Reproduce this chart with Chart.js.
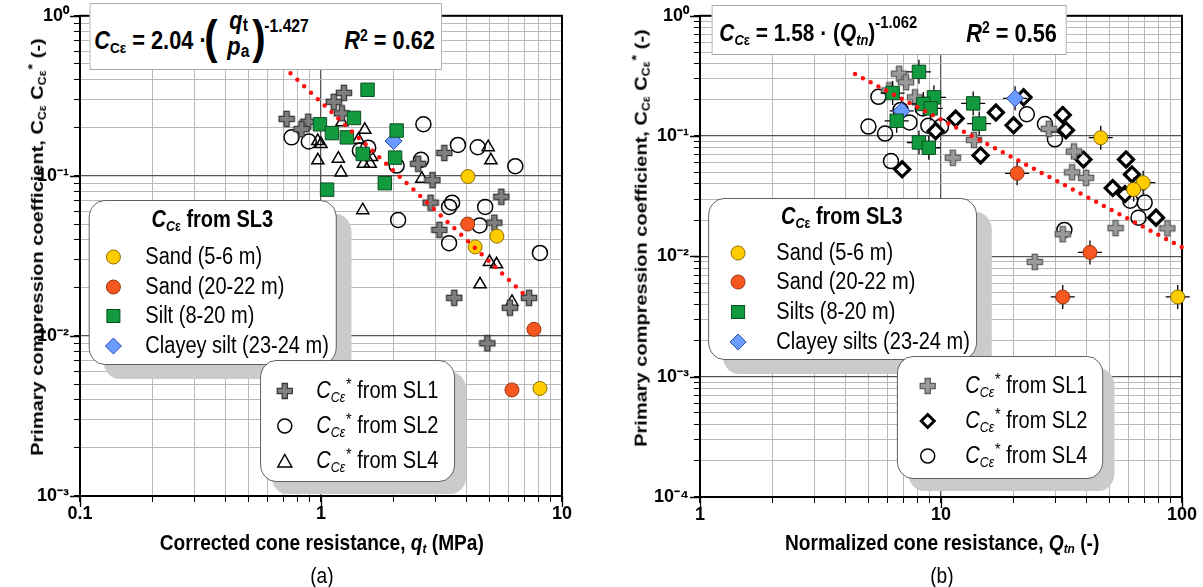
<!DOCTYPE html>
<html>
<head>
<meta charset="utf-8">
<title>Primary compression coefficient vs cone resistance</title>
<script src="https://cdn.jsdelivr.net/npm/chart.js@4.4.1/dist/chart.umd.min.js"></script>
<style>
  html, body { margin: 0; padding: 0; background: #fff; }
  #page { position: relative; width: 1203px; height: 587px; overflow: hidden; background: #fff; }
  #leftChart { position: absolute; left: 0; top: 0; }
  #rightChart { position: absolute; left: 600px; top: 0; }
  /* the whole source figure is squeezed horizontally, so the text layer is too */
  #ov { position: absolute; left: 0; top: 0; width: 1383px; height: 587px; transform: scaleX(0.87); transform-origin: 0 0;
        font-family: "Liberation Sans", Arial, sans-serif; color: #000; pointer-events: none; }
  #ov div, #ov svg { position: absolute; }
  .eq { box-sizing: border-box; background: #fff; border: 1.5px solid #a9a9a9; font-weight: bold; white-space: nowrap; line-height: 1; }
  .t25 { font-size: 25px; white-space: nowrap; line-height: 1; }
  .t24 { font-size: 24px; white-space: nowrap; line-height: 1; }
  .t18 { font-size: 18px; white-space: nowrap; line-height: 1; }
  .paren { font-size: 46px; line-height: 1; }
  .sb { font-size: 0.62em; position: relative; top: 0.25em; }
  .sbs { font-size: 0.72em; position: relative; top: 0.12em; }
  .sp2 { font-size: 0.64em; position: relative; top: -0.55em; }
  .sup { font-size: 17px; position: relative; top: -13px; }
  .ast { font-size: 0.72em; position: relative; top: -0.5em; margin-left: 1px; }
  .leg { box-sizing: border-box; background: #fff; border: 1.5px solid #555; border-radius: 18px; line-height: 1; white-space: nowrap; }
  .lt { font-size: 23px; line-height: 1; white-space: nowrap; }
  .ltitle { font-size: 23px; font-weight: bold; text-align: center; line-height: 1; white-space: nowrap; }
  .axt { font-size: 22px; font-weight: bold; line-height: 1; white-space: nowrap; }
  .ytitle { font-size: 20px; font-weight: bold; line-height: 1; white-space: nowrap; transform: rotate(-90deg); }
  .pl { font-size: 22px; line-height: 1; white-space: nowrap; }
</style>
</head>
<body>
<div id="page">
  <canvas id="leftChart" width="600" height="587"></canvas>
  <canvas id="rightChart" width="603" height="587"></canvas>

  <div id="ov">
    <!-- left: fit equation -->
    <div class="eq" data-x="90" data-y="3" data-w="352" data-h="67">
      <div class="t25" data-x="3.5" data-y="24.3"><i>C</i><span class="sb">Cε</span> = 2.04 ·</div>
      <div class="paren" data-x="113.5" data-y="9.9">(</div>
      <div class="t25" data-x="138.5" data-y="4"><i>q</i><span class="sbs">t</span></div>
      <div class="t25" data-x="136.5" data-y="30"><i>p</i><span class="sbs">a</span></div>
      <div class="paren" data-x="161.5" data-y="9.9">)</div>
      <div class="t18" data-x="173.5" data-y="13.3">-1.427</div>
      <div class="t25" data-x="253.5" data-y="24.3"><i>R</i><span class="sp2">2</span> = 0.62</div>
    </div>

    <!-- right: fit equation -->
    <div class="eq" data-x="712" data-y="5" data-w="355" data-h="50">
      <div class="t24" data-x="6.5" data-y="15"><i>C</i><span class="sb"><i>C</i>ε</span> = 1.58 · (<i>Q</i><span class="sb"><i>tn</i></span>)<span class="sup">-1.062</span></div>
      <div class="t25" data-x="253.5" data-y="14.5"><i>R</i><span class="sp2">2</span> = 0.56</div>
    </div>

    <!-- left: SL3 legend -->
    <div class="leg" data-x="89" data-y="200" data-w="248" data-h="165" style="box-shadow: 17px 14px 0 #cbcbcb;">
      <div class="ltitle" data-x="0" data-y="7" data-w="245"><i>C</i><span class="sb"><i>C</i>ε</span> from SL3</div>
      <svg data-x="14.5" data-y="46.5" width="20.7" height="18" viewBox="0 0 18 18" preserveAspectRatio="none"><circle cx="9" cy="9" r="7" fill="#ffcc00" stroke="#8c6d00" stroke-width="1"/></svg>
      <svg data-x="14.5" data-y="76.5" width="20.7" height="18" viewBox="0 0 18 18" preserveAspectRatio="none"><circle cx="9" cy="9" r="7" fill="#f6561f" stroke="#9a3410" stroke-width="1"/></svg>
      <svg data-x="14.5" data-y="105.5" width="20.7" height="18" viewBox="0 0 18 18" preserveAspectRatio="none"><rect x="2.5" y="2.5" width="13" height="13" fill="#129a3e" stroke="#0b4f22" stroke-width="1"/></svg>
      <svg data-x="14.5" data-y="135.5" width="20.7" height="18" viewBox="0 0 18 18" preserveAspectRatio="none"><polygon points="9,1 17,9 9,17 1,9" fill="#6b9bff" stroke="#2a4bb0" stroke-width="1"/></svg>
      <div class="lt" data-x="55.5" data-y="44">Sand (5-6 m)</div>
      <div class="lt" data-x="55.5" data-y="74">Sand (20-22 m)</div>
      <div class="lt" data-x="55.5" data-y="103">Silt (8-20 m)</div>
      <div class="lt" data-x="55.5" data-y="133">Clayey silt (23-24 m)</div>
    </div>

    <!-- left: SL1/SL2/SL4 legend -->
    <div class="leg" data-x="260" data-y="360" data-w="195" data-h="122" style="box-shadow: 13px 12px 0 #cbcbcb;">
      <svg data-x="14.5" data-y="20.5" width="20.7" height="18" viewBox="0 0 18 18" preserveAspectRatio="none"><polygon points="6.4,1.5 11.6,1.5 11.6,6.4 16.5,6.4 16.5,11.6 11.6,11.6 11.6,16.5 6.4,16.5 6.4,11.6 1.5,11.6 1.5,6.4 6.4,6.4" fill="#808080" stroke="#3a3a3a" stroke-width="1.3"/></svg>
      <svg data-x="14.5" data-y="55.5" width="20.7" height="18" viewBox="0 0 18 18" preserveAspectRatio="none"><circle cx="9" cy="9" r="7" fill="none" stroke="#000" stroke-width="1.5"/></svg>
      <svg data-x="14.5" data-y="90.5" width="20.7" height="18" viewBox="0 0 18 18" preserveAspectRatio="none"><polygon points="9,2.5 16,15 2,15" fill="none" stroke="#000" stroke-width="1.5"/></svg>
      <div class="lt" data-x="55.5" data-y="18"><i>C</i><span class="sb"><i>Cε</i></span><span class="ast">*</span> from SL1</div>
      <div class="lt" data-x="55.5" data-y="53"><i>C</i><span class="sb"><i>Cε</i></span><span class="ast">*</span> from SL2</div>
      <div class="lt" data-x="55.5" data-y="88"><i>C</i><span class="sb"><i>Cε</i></span><span class="ast">*</span> from SL4</div>
    </div>

    <!-- right: SL3 legend -->
    <div class="leg" data-x="708" data-y="198" data-w="269" data-h="162" style="box-shadow: 17px 14px 0 #cbcbcb;">
      <div class="ltitle" data-x="0" data-y="6" data-w="266"><i>C</i><span class="sb"><i>C</i>ε</span> from SL3</div>
      <svg data-x="20.5" data-y="44.5" width="20.7" height="18" viewBox="0 0 18 18" preserveAspectRatio="none"><circle cx="9" cy="9" r="7" fill="#ffcc00" stroke="#8c6d00" stroke-width="1"/></svg>
      <svg data-x="20.5" data-y="73.5" width="20.7" height="18" viewBox="0 0 18 18" preserveAspectRatio="none"><circle cx="9" cy="9" r="7" fill="#f6561f" stroke="#9a3410" stroke-width="1"/></svg>
      <svg data-x="20.5" data-y="103.5" width="20.7" height="18" viewBox="0 0 18 18" preserveAspectRatio="none"><rect x="2.5" y="2.5" width="13" height="13" fill="#129a3e" stroke="#0b4f22" stroke-width="1"/></svg>
      <svg data-x="20.5" data-y="133.5" width="20.7" height="18" viewBox="0 0 18 18" preserveAspectRatio="none"><polygon points="9,1 17,9 9,17 1,9" fill="#6b9bff" stroke="#2a4bb0" stroke-width="1"/></svg>
      <div class="lt" data-x="67.5" data-y="42">Sand (5-6 m)</div>
      <div class="lt" data-x="67.5" data-y="71">Sand (20-22 m)</div>
      <div class="lt" data-x="67.5" data-y="101">Silts (8-20 m)</div>
      <div class="lt" data-x="67.5" data-y="131">Clayey silts (23-24 m)</div>
    </div>

    <!-- right: SL1/SL2/SL4 legend -->
    <div class="leg" data-x="897" data-y="356" data-w="206" data-h="123" style="box-shadow: 13px 12px 0 #cbcbcb;">
      <svg data-x="20.5" data-y="19.5" width="20.7" height="18" viewBox="0 0 18 18" preserveAspectRatio="none"><polygon points="6.4,1.5 11.6,1.5 11.6,6.4 16.5,6.4 16.5,11.6 11.6,11.6 11.6,16.5 6.4,16.5 6.4,11.6 1.5,11.6 1.5,6.4 6.4,6.4" fill="#9a9a9a" stroke="#5e5e5e" stroke-width="1.3"/></svg>
      <svg data-x="20.5" data-y="54.5" width="20.7" height="18" viewBox="0 0 18 18" preserveAspectRatio="none"><polygon points="9,2.5 15.5,9 9,15.5 2.5,9" fill="#fff" stroke="#000" stroke-width="3"/></svg>
      <svg data-x="20.5" data-y="89.5" width="20.7" height="18" viewBox="0 0 18 18" preserveAspectRatio="none"><circle cx="9" cy="9" r="7" fill="none" stroke="#000" stroke-width="1.5"/></svg>
      <div class="lt" data-x="67.5" data-y="17"><i>C</i><span class="sb"><i>Cε</i></span><span class="ast">*</span> from SL1</div>
      <div class="lt" data-x="67.5" data-y="52"><i>C</i><span class="sb"><i>Cε</i></span><span class="ast">*</span> from SL2</div>
      <div class="lt" data-x="67.5" data-y="87"><i>C</i><span class="sb"><i>Cε</i></span><span class="ast">*</span> from SL4</div>
    </div>

    <!-- axis titles and panel labels -->
    <div class="ytitle" data-cx="37" data-cy="247">Primary compression coefficient, C<span class="sb">Cε</span> C<span class="sb">Cε</span><span class="ast">*</span> (-)</div>
    <div class="ytitle" data-cx="641" data-cy="238">Primary compression coefficient, C<span class="sb">Cε</span> C<span class="sb">Cε</span><span class="ast">*</span> (-)</div>
    <div class="axt" data-cx="322" data-cy="543">Corrected cone resistance, <i>q<span class="sb">t</span></i> (MPa)</div>
    <div class="axt" data-cx="942" data-cy="543">Normalized cone resistance, <i>Q<span class="sb">tn</span></i> (-)</div>
    <div class="pl" data-cx="322" data-cy="576">(a)</div>
    <div class="pl" data-cx="942" data-cy="576">(b)</div>
  </div>
</div>

<script>
const SX = 0.87;

// ---------- left panel: corrected cone resistance q_t (MPa) ----------
const leftXTickValues = [0.1, 1, 10];
const leftXTickLabels = ['0.1', '1', '10'];
const leftYTickValues = [0.001, 0.01, 0.1, 1];
const leftYTickLabels = ['10⁻³', '10⁻²', '10⁻¹', '10⁰'];

const sandShallowQt = [4.07, 5.37, 4.36, 8.1];
const sandShallowC = [0.099, 0.042, 0.036, 0.0047];
const sandDeepQt = [4.06, 7.65, 6.2];
const sandDeepC = [0.050, 0.011, 0.0046];
const siltQt = [1.56, 0.99, 1.37, 1.11, 1.28, 1.49, 2.06, 2.03, 1.84, 1.06];
const siltC = [0.345, 0.21, 0.23, 0.185, 0.174, 0.137, 0.192, 0.13, 0.09, 0.082];
const clayeySiltQt = [2.0];
const clayeySiltC = [0.165];
const sl1Qt = [0.72, 0.885, 0.83, 1.245, 1.13, 1.22, 2.53, 3.25, 2.9, 5.6, 2.85, 5.24, 3.1, 3.57, 7.3, 6.08, 4.9];
const sl1C = [0.227, 0.218, 0.196, 0.33, 0.29, 0.246, 0.119, 0.139, 0.094, 0.074, 0.068, 0.051, 0.046, 0.0173, 0.0173, 0.015, 0.009];
const sl2Qt = [0.755, 0.89, 2.66, 1.45, 1.57, 2.06, 2.6, 2.09, 3.7, 4.47, 6.4, 3.5, 3.4, 4.8, 4.55, 3.4, 8.1];
const sl2C = [0.174, 0.164, 0.21, 0.144, 0.15, 0.116, 0.126, 0.053, 0.156, 0.151, 0.115, 0.068, 0.064, 0.064, 0.049, 0.038, 0.033];
const sl4Qt = [1.22, 1.52, 0.97, 1.0, 1.43, 0.97, 1.18, 1.21, 1.5, 1.6, 1.62, 1.49, 2.62, 4.94, 5.07, 5.0, 5.35, 4.57, 6.2];
const sl4C = [0.216, 0.194, 0.165, 0.158, 0.168, 0.125, 0.128, 0.105, 0.119, 0.119, 0.131, 0.061, 0.096, 0.151, 0.125, 0.029, 0.028, 0.021, 0.0163];
const leftFitQt = [0.7, 7.3];
const leftFitC = [0.48, 0.017];

// ---------- right panel: normalized cone resistance Q_tn (-) ----------
const rightXTickValues = [1, 10, 100];
const rightXTickLabels = ['1', '10', '100'];
const rightYTickValues = [0.0001, 0.001, 0.01, 0.1, 1];
const rightYTickLabels = ['10⁻⁴', '10⁻³', '10⁻²', '10⁻¹', '10⁰'];

const sandShallowQtn = [46, 69, 63, 96];
const sandShallowCn = [0.097, 0.041, 0.036, 0.0046];
const sandDeepQtn = [20.7, 41.5, 32];
const sandDeepCn = [0.049, 0.0108, 0.0046];
const siltsQtn = [8.1, 6.3, 9.35, 8.45, 9.06, 6.55, 8.1, 8.9, 13.6, 14.4];
const siltsCn = [0.342, 0.228, 0.21, 0.185, 0.17, 0.134, 0.0885, 0.080, 0.187, 0.127];
const clayeySiltsQtn = [6.87, 20.3];
const clayeySiltsCn = [0.162, 0.206];
const sl1Qtn = [6.7, 7.16, 6.1, 7.8, 13.7, 11.2, 35.6, 35, 40, 28, 53, 87, 32, 24.5];
const sl1Cn = [0.33, 0.28, 0.24, 0.21, 0.093, 0.066, 0.0745, 0.05, 0.045, 0.115, 0.0172, 0.0171, 0.0153, 0.009];
const sl2Qtn = [11.5, 9.5, 16.9, 14.6, 6.9, 20, 22, 32, 33, 39, 58.6, 62, 51.6, 58, 78];
const sl2Cn = [0.14, 0.11, 0.157, 0.069, 0.053, 0.123, 0.21, 0.15, 0.112, 0.064, 0.064, 0.048, 0.037, 0.033, 0.021];
const sl4Qtn = [5.5, 5.0, 5.86, 7.4, 8.86, 10, 6.2, 6.8, 8.4, 22.7, 27, 29.7, 61, 70, 66, 32.5];
const sl4Cn = [0.212, 0.12, 0.105, 0.13, 0.122, 0.12, 0.062, 0.165, 0.17, 0.152, 0.126, 0.094, 0.029, 0.028, 0.021, 0.0166];
const rightFitQtn = [4.4, 100];
const rightFitCn = [0.328, 0.0119];

// ---------- helpers ----------
function pts(xs, ys) {
  return xs.map((x, i) => ({ x, y: ys[i] }));
}

function isDecade(v) {
  const l = Math.log10(v);
  return Math.abs(l - Math.round(l)) < 1e-6;
}

function logSteps(min, max) {
  const out = [];
  for (let e = Math.round(Math.log10(min)); e < Math.round(Math.log10(max)); e++) {
    for (let k = 1; k <= 9; k++) out.push(+(k * Math.pow(10, e)).toPrecision(6));
  }
  out.push(max);
  return out;
}

function labelFor(values, labels) {
  return (v) => {
    const i = values.findIndex((t) => Math.abs(t - v) / t < 1e-6);
    return i < 0 ? '' : labels[i];
  };
}

function plusIcon(fill, stroke) {
  const c = document.createElement('canvas');
  c.width = 18;
  c.height = 18;
  const g = c.getContext('2d');
  const m = 9, a = 7.6, t = 2.6;
  g.beginPath();
  g.moveTo(m - t, m - a); g.lineTo(m + t, m - a); g.lineTo(m + t, m - t); g.lineTo(m + a, m - t);
  g.lineTo(m + a, m + t); g.lineTo(m + t, m + t); g.lineTo(m + t, m + a); g.lineTo(m - t, m + a);
  g.lineTo(m - t, m + t); g.lineTo(m - a, m + t); g.lineTo(m - a, m - t); g.lineTo(m - t, m - t);
  g.closePath();
  g.fillStyle = fill;
  g.fill();
  g.lineWidth = 1.3;
  g.strokeStyle = stroke;
  g.stroke();
  return c;
}

const TICK_FONT = '"Liberation Sans Narrow", "Liberation Sans", Arial, sans-serif';

function logAxis(min, max, tickValues, tickLabels, isX, fitSize) {
  return {
    type: 'logarithmic',
    position: isX ? 'bottom' : 'left',
    min,
    max,
    afterBuildTicks: (s) => { s.ticks = logSteps(min, max).map((v) => ({ value: v })); },
    afterFit: (s) => { if (isX) s.height = fitSize; else s.width = fitSize; },
    ticks: {
      autoSkip: false,
      maxRotation: 0,
      minRotation: 0,
      padding: isX ? 1 : 5,
      color: '#000',
      font: { family: TICK_FONT, size: isX ? 18 : 18, weight: 'bold' },
      callback: labelFor(tickValues, tickLabels),
    },
    grid: {
      color: (c) => (c.tick && isDecade(c.tick.value) ? '#555555' : '#bababa'),
      lineWidth: (c) => (c.tick && isDecade(c.tick.value) ? 1.3 : 1),
      tickColor: '#000',
      tickLength: 6,
    },
    border: { display: true, color: '#000', width: 2 },
  };
}

// plot frame plus the longer tick marks at every decade
const framePlugin = {
  id: 'frame',
  beforeDatasetsDraw(chart) {
    const { ctx, chartArea: a, scales } = chart;
    ctx.save();
    ctx.strokeStyle = '#000';
    ctx.lineWidth = 2;
    ctx.strokeRect(a.left, a.top, a.right - a.left, a.bottom - a.top);
    ctx.lineWidth = 1.3;
    ctx.beginPath();
    scales.x.ticks.filter((t) => isDecade(t.value)).forEach((t) => {
      const px = Math.round(scales.x.getPixelForValue(t.value)) + 0.5;
      ctx.moveTo(px, a.bottom);
      ctx.lineTo(px, a.bottom + 11);
    });
    scales.y.ticks.filter((t) => isDecade(t.value)).forEach((t) => {
      const py = Math.round(scales.y.getPixelForValue(t.value)) + 0.5;
      ctx.moveTo(a.left - 10, py);
      ctx.lineTo(a.left, py);
    });
    ctx.stroke();
    ctx.restore();
  },
};

function fitSet(xs, ys, gap) {
  return {
    label: 'fit', data: pts(xs, ys), showLine: true, borderColor: '#ff1010', borderWidth: 4.5,
    borderDash: [0, gap], borderCapStyle: 'round', pointRadius: 0, clip: false,
  };
}

function markerSet(label, xs, ys, style) {
  return Object.assign({ label, data: pts(xs, ys), showLine: false, clip: false }, style);
}

const yellowStyle = { pointStyle: 'circle', pointRadius: 7, pointBackgroundColor: '#ffcc00', pointBorderColor: '#8c6d00', pointBorderWidth: 1 };
const orangeStyle = { pointStyle: 'circle', pointRadius: 7, pointBackgroundColor: '#f6561f', pointBorderColor: '#9a3410', pointBorderWidth: 1 };
const greenStyle = { pointStyle: 'rect', pointRadius: 9.5, pointBackgroundColor: '#129a3e', pointBorderColor: '#0b4f22', pointBorderWidth: 1 };
const blueStyle = { pointStyle: 'rectRot', pointRadius: 8.5, pointBackgroundColor: '#6b9bff', pointBorderColor: '#2a4bb0', pointBorderWidth: 1 };
const openCircle = { pointStyle: 'circle', pointRadius: 7.5, pointBackgroundColor: 'rgba(255,255,255,0)', pointBorderColor: '#000', pointBorderWidth: 1.5 };
const openTriangle = { pointStyle: 'triangle', pointRadius: 7, pointBackgroundColor: 'rgba(255,255,255,0)', pointBorderColor: '#000', pointBorderWidth: 1.5 };
const thickDiamond = { pointStyle: 'rectRot', pointRadius: 7.5, pointBackgroundColor: '#fff', pointBorderColor: '#000', pointBorderWidth: 3.2 };
const crossHair = { pointStyle: 'cross', pointRadius: 12, pointBorderColor: '#000', pointBorderWidth: 1.3, pointBackgroundColor: 'rgba(0,0,0,0)' };

function baseOptions(padRight, xAxis, yAxis) {
  return {
    responsive: false,
    animation: false,
    events: [],
    layout: { padding: { left: 0, top: 15, right: padRight, bottom: 0 } },
    plugins: { legend: { display: false }, tooltip: { enabled: false } },
    scales: { x: xAxis, y: yAxis },
  };
}

// ---------- left chart ----------
new Chart(document.getElementById('leftChart'), {
  type: 'scatter',
  data: {
    datasets: [
      fitSet(leftFitQt, leftFitC, 9.4),
      markerSet('Sand (5-6 m)', sandShallowQt, sandShallowC, yellowStyle),
      markerSet('Sand (20-22 m)', sandDeepQt, sandDeepC, orangeStyle),
      markerSet('Silt (8-20 m)', siltQt, siltC, greenStyle),
      markerSet('Clayey silt (23-24 m)', clayeySiltQt, clayeySiltC, blueStyle),
      markerSet('SL1', sl1Qt, sl1C, { pointStyle: plusIcon('#7f7f7f', '#383838') }),
      markerSet('SL2', sl2Qt, sl2C, openCircle),
      markerSet('SL4', sl4Qt, sl4C, openTriangle),
    ],
  },
  options: baseOptions(
    38,
    logAxis(0.1, 10, leftXTickValues, leftXTickLabels, true, 91),
    logAxis(0.001, 1, leftYTickValues, leftYTickLabels, false, 80)
  ),
  plugins: [framePlugin],
});

// ---------- right chart ----------
new Chart(document.getElementById('rightChart'), {
  type: 'scatter',
  data: {
    datasets: [
      fitSet(rightFitQtn, rightFitCn, 8.8),
      markerSet('Sand (5-6 m)', sandShallowQtn, sandShallowCn, yellowStyle),
      markerSet('Sand (20-22 m)', sandDeepQtn, sandDeepCn, orangeStyle),
      markerSet('Silts (8-20 m)', siltsQtn, siltsCn, greenStyle),
      markerSet('Clayey silts (23-24 m)', clayeySiltsQtn, clayeySiltsCn, blueStyle),
      markerSet('bars', sandShallowQtn.concat(sandDeepQtn, siltsQtn, clayeySiltsQtn),
        sandShallowCn.concat(sandDeepCn, siltsCn, clayeySiltsCn), crossHair),
      markerSet('SL1', sl1Qtn, sl1Cn, { pointStyle: plusIcon('#9a9a9a', '#5e5e5e') }),
      markerSet('SL2', sl2Qtn, sl2Cn, thickDiamond),
      markerSet('SL4', sl4Qtn, sl4Cn, openCircle),
    ],
  },
  options: baseOptions(
    21,
    logAxis(1, 100, rightXTickValues, rightXTickLabels, true, 90),
    logAxis(0.0001, 1, rightYTickValues, rightYTickLabels, false, 100)
  ),
  plugins: [framePlugin],
});

// ---------- place the text layer ----------
document.querySelectorAll('#ov [data-x]').forEach((el) => {
  el.style.left = (+el.dataset.x / SX) + 'px';
  el.style.top = el.dataset.y + 'px';
  if (el.dataset.w) el.style.width = (+el.dataset.w / SX) + 'px';
  if (el.dataset.h) el.style.height = el.dataset.h + 'px';
});
document.querySelectorAll('#ov [data-cx]').forEach((el) => {
  el.style.left = (+el.dataset.cx / SX - el.offsetWidth / 2) + 'px';
  el.style.top = (+el.dataset.cy - el.offsetHeight / 2) + 'px';
});
</script>
</body>
</html>
